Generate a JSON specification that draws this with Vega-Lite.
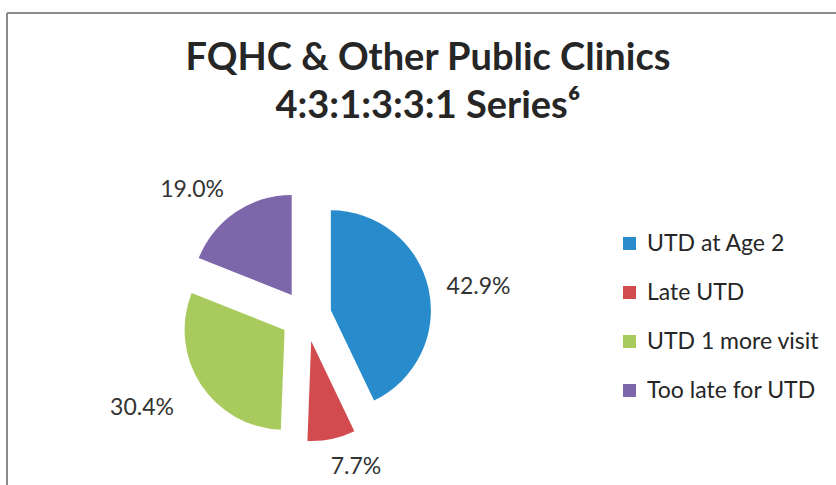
{
  "$schema": "https://vega.github.io/schema/vega-lite/v6.json",
  "width": 829,
  "height": 472,
  "autosize": {"type": "none"},
  "padding": {"left": 7, "top": 13, "right": 0, "bottom": 0},
  "background": "white",
  "config": {"view": {"stroke": null}},
  "title": {
    "text": ["FQHC & Other Public Clinics", "4:3:1:3:3:1 Series⁶"],
    "font": "Lato",
    "fontSize": 38,
    "fontWeight": "bold",
    "color": "#262626",
    "anchor": "middle",
    "frame": "group",
    "offset": -114,
    "lineHeight": 48,
    "dx": 6.5
  },
  "data": {
    "values": [
      {"category": "UTD at Age 2", "share": 0.429, "idx": 1},
      {"category": "Late UTD", "share": 0.077, "idx": 2},
      {"category": "UTD 1 more visit", "share": 0.304, "idx": 3},
      {"category": "Too late for UTD", "share": 0.190, "idx": 4}
    ]
  },
  "encoding": {
    "theta": {"field": "share", "type": "quantitative", "stack": true},
    "order": {"field": "idx", "type": "quantitative"}
  },
  "layer": [
    {
      "data": {"values": [{}]},
      "mark": {"type": "rule", "stroke": "#8c8c8c", "strokeWidth": 2},
      "encoding": {"theta": null, "order": null, "x": {"value": 0}, "x2": {"value": "width"}, "y": {"value": 0}}
    },
    {
      "data": {"values": [{}]},
      "mark": {"type": "rule", "stroke": "#8c8c8c", "strokeWidth": 2},
      "encoding": {"theta": null, "order": null, "x": {"value": 0}, "y": {"value": 0}, "y2": {"value": "height"}}
    },
    {
      "mark": {"type": "arc", "radius": 100, "xOffset": -90.6, "yOffset": 61.3},
      "encoding": {
        "color": {
          "field": "category", "type": "nominal",
          "scale": {"domain": ["UTD at Age 2", "Late UTD", "UTD 1 more visit", "Too late for UTD"], "range": ["#278BCC", "#D14B4F", "#A9CB5E", "#7E66AA"]},
          "legend": {"orient": "none", "legendX": 611, "legendY": 219, "title": null, "symbolType": "square", "symbolSize": 169, "symbolStrokeWidth": 0, "labelFont": "Lato", "labelFontSize": 23, "labelColor": "#262626", "rowPadding": 25, "labelOffset": 6, "labelLimit": 400}
        },
        "opacity": {"condition": {"test": "datum.category === 'UTD at Age 2'", "value": 1}, "value": 0}
      }
    },
    {
      "mark": {"type": "arc", "radius": 100, "xOffset": -110.3, "yOffset": 92},
      "encoding": {
        "color": {"field": "category", "type": "nominal"},
        "opacity": {"condition": {"test": "datum.category === 'Late UTD'", "value": 1}, "value": 0}
      }
    },
    {
      "mark": {"type": "arc", "radius": 100, "xOffset": -136.9, "yOffset": 80.9},
      "encoding": {
        "color": {"field": "category", "type": "nominal"},
        "opacity": {"condition": {"test": "datum.category === 'UTD 1 more visit'", "value": 1}, "value": 0}
      }
    },
    {
      "mark": {"type": "arc", "radius": 100, "xOffset": -129.8, "yOffset": 45.9},
      "encoding": {
        "color": {"field": "category", "type": "nominal"},
        "opacity": {"condition": {"test": "datum.category === 'Too late for UTD'", "value": 1}, "value": 0}
      }
    },
    {
      "mark": {"type": "text", "radius": 160, "xOffset": -99, "yOffset": 73.5, "font": "Lato", "fontSize": 23, "color": "#333333", "align": "center", "baseline": "middle"},
      "encoding": {"text": {"condition": {"test": "datum.category === 'UTD at Age 2'", "field": "share", "type": "quantitative", "format": ".1%"}, "value": ""}}
    },
    {
      "mark": {"type": "text", "radius": 160, "xOffset": -98, "yOffset": 61.4, "font": "Lato", "fontSize": 23, "color": "#333333", "align": "center", "baseline": "middle"},
      "encoding": {"text": {"condition": {"test": "datum.category === 'Late UTD'", "field": "share", "type": "quantitative", "format": ".1%"}, "value": ""}}
    },
    {
      "mark": {"type": "text", "radius": 160, "xOffset": -145.5, "yOffset": 71.6, "font": "Lato", "fontSize": 23, "color": "#333333", "align": "center", "baseline": "middle"},
      "encoding": {"text": {"condition": {"test": "datum.category === 'UTD 1 more visit'", "field": "share", "type": "quantitative", "format": ".1%"}, "value": ""}}
    },
    {
      "mark": {"type": "text", "radius": 160, "xOffset": -139.5, "yOffset": 73.3, "font": "Lato", "fontSize": 23, "color": "#333333", "align": "center", "baseline": "middle"},
      "encoding": {"text": {"condition": {"test": "datum.category === 'Too late for UTD'", "field": "share", "type": "quantitative", "format": ".1%"}, "value": ""}}
    }
  ]
}
